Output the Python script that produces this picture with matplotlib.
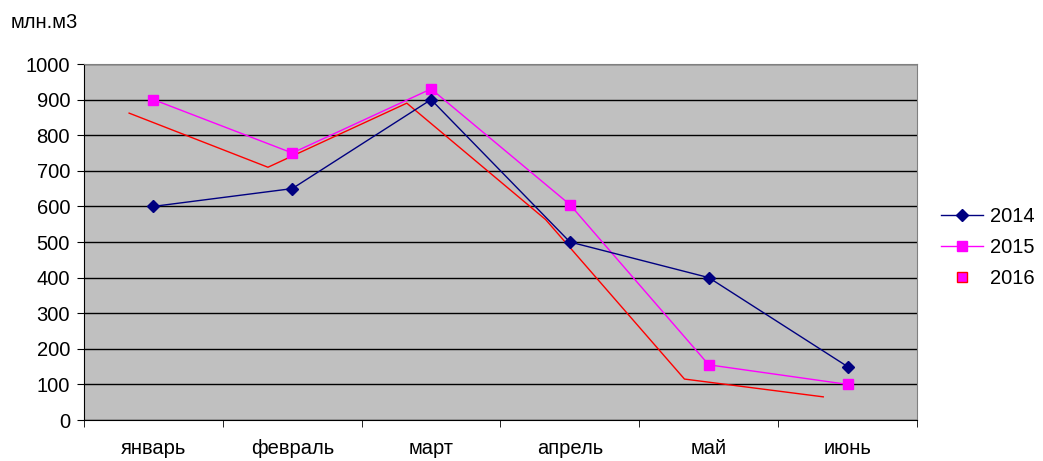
import matplotlib.pyplot as plt
from matplotlib.lines import Line2D
import numpy as np

plt.rcParams['font.family'] = ['Liberation Sans', 'DejaVu Sans']

months = ['январь', 'февраль', 'март', 'апрель', 'май', 'июнь']
y2014 = [600, 650, 900, 500, 400, 150]
y2015 = [900, 750, 930, 605, 155, 100]
y2016 = [862, 710, 890, 563, 115, 65]

x = np.arange(len(months))

fig = plt.figure(figsize=(10.43, 4.61), dpi=100)
ax = fig.add_axes([84 / 1043, 41 / 461, 833 / 1043, 356 / 461])
ax.set_facecolor('#C0C0C0')

ax.plot(x - 0.175, y2016, color='#FF0000', lw=1, zorder=3)
ax.plot(x, y2015, color='#FF00FF', lw=1, marker='s', ms=7, zorder=4)
ax.plot(x, y2014, color='#000080', lw=1, marker='D', ms=6, zorder=5)

ax.set_xlim(-0.5, 5.5)
ax.set_ylim(0, 1000)
ax.set_yticks(range(0, 1001, 100))
ax.set_xticks(x)
ax.set_xticklabels(months)
ax.set_xticks(np.arange(-0.5, 5.6, 1), minor=True)
ax.tick_params(axis='x', which='major', length=0, pad=14, labelsize=14.5)
ax.tick_params(axis='x', which='minor', length=5, direction='out')
ax.tick_params(axis='y', length=5, direction='out', labelsize=14.5, pad=5)
ax.yaxis.grid(True, color='black', lw=1)
ax.set_axisbelow(True)

for side in ['top', 'right']:
    ax.spines[side].set_color('#808080')
for side in ['left', 'bottom']:
    ax.spines[side].set_color('black')

fig.text(11 / 1043, 1 - 22 / 461, 'млн.м3', fontsize=14.5, va='center', ha='left')

handles = [
    Line2D([], [], color='#000080', lw=1, marker='D', ms=6),
    Line2D([], [], color='#FF00FF', lw=1, marker='s', ms=7),
    Line2D([], [], color='none', marker='s', ms=7, markerfacecolor='#FF00FF',
           markeredgecolor='#FF0000'),
]
fig.legend(handles, ['2014', '2015', '2016'], loc='upper left',
           bbox_to_anchor=(923 / 1043, 1 - 189 / 461), frameon=False,
           fontsize=14.5, handlelength=2.1, labelspacing=0.6, handletextpad=0.35)

fig.savefig('out.png', dpi=100)
